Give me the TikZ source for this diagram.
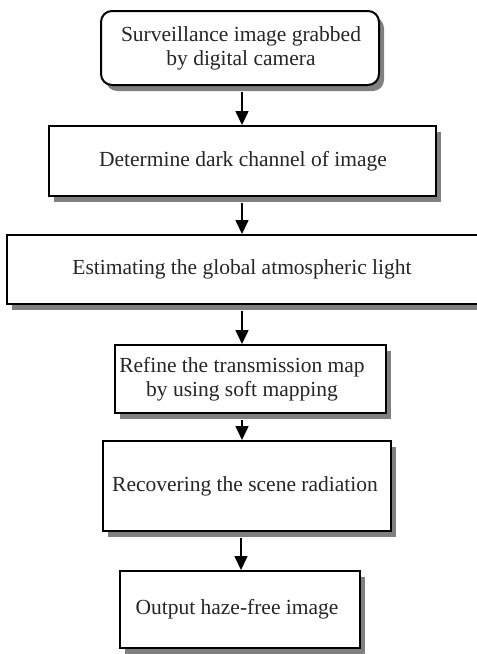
\documentclass[tikz,border=0pt]{standalone}
\usepackage{fontspec}
\setmainfont{Liberation Serif}
\usetikzlibrary{shadows,arrows.meta}
\begin{document}
\begin{tikzpicture}[x=1pt,y=-1pt,
  box/.style={draw=black, line width=2pt, fill=white, inner sep=0pt,
    drop shadow={shadow xshift=5pt,shadow yshift=-6pt,fill=black!50,opacity=1}},
  lbl/.style={font=\fontsize{21.5}{24}\selectfont, text=black!85, align=center, inner sep=0pt},
  arr/.style={line width=1.6pt, -{Triangle[length=14pt,width=13pt]}}]
\useasboundingbox (0,0) rectangle (477,654);

% process boxes
\node[box, rounded corners=11pt, minimum width=278pt, minimum height=74pt] (b1) at (240,48) {};
\node[box, minimum width=387pt, minimum height=70pt] (b2) at (242.5,161) {};
\node[box, minimum width=471pt, minimum height=69pt] (b3) at (242.5,269.5) {};
\node[box, minimum width=271pt, minimum height=68pt] (b4) at (250.5,379) {};
\node[box, minimum width=288pt, minimum height=90pt] (b5) at (247,486) {};
\node[box, minimum width=240pt, minimum height=77pt] (b6) at (240,609.5) {};

% box texts
\node[lbl] (t1) at (241,48) {Surveillance image grabbed\\by digital camera};
\node[lbl] (t2) at (243,161) {Determine dark channel of image};
\node[lbl] (t3) at (242,269.5) {Estimating the global atmospheric light};
\node[lbl] (t4) at (242,379) {Refine the transmission map\\by using soft mapping};
\node[lbl] (t5) at (245,486) {Recovering the scene radiation};
\node[lbl] (t6) at (237,609) {Output haze-free image};

% flow arrows
\coordinate (ax) at (242,0);
\coordinate (ay) at (241,0);
\draw[arr] (b1.south -| ax) ++(0,6) -- (b2.north -| ax);
\draw[arr] (b2.south -| ax) ++(0,6) -- (b3.north -| ax);
\draw[arr] (b3.south -| ax) ++(0,6) -- (b4.north -| ax);
\draw[arr] (b4.south -| ax) ++(0,6) -- (b5.north -| ax);
\draw[arr] (b5.south -| ay) ++(0,6) -- (b6.north -| ay);
\end{tikzpicture}
\end{document}
